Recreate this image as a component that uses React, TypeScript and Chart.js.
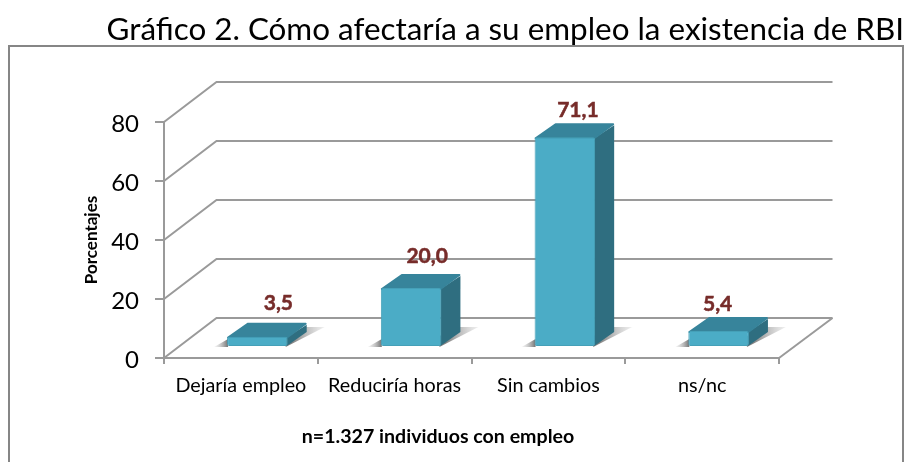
import React, { useEffect, useRef } from "react";
import { Chart, registerables } from "chart.js";

Chart.register(...registerables);

const titleText = "Gráfico 2. Cómo afectaría a su empleo la existencia de RBI";
const yAxisTitle = "Porcentajes";
const noteText = "n=1.327 individuos con empleo";
const categories = ["Dejaría empleo", "Reduciría horas", "Sin cambios", "ns/nc"];
const values = [3.5, 20.0, 71.1, 5.4];

const FONT = "Lato, Carlito, sans-serif";
const LINE = "#9a9a9a";
const FRONT = "#4bacc6";
const TOP = "#37849b";
const SIDE = "#2f6e80";
const LABEL = "#772c2a";

// Perspective offsets of the 3D look
const WALL_DX = 52.5;
const WALL_DY = -40;
const BAR_DX = 16.5;
const BAR_DY = -11;
const DEPTH_DX = 19;
const DEPTH_DY = -14;
const labelNudge = [
  [21, -33],
  [16, -32],
  [13, -27],
  [-1, -27],
];

const poly = (ctx: CanvasRenderingContext2D, pts: number[][]) => {
  ctx.beginPath();
  pts.forEach(([x, y], i) => (i ? ctx.lineTo(x, y) : ctx.moveTo(x, y)));
  ctx.closePath();
};

const scene = {
  id: "scene",
  beforeDraw(chart: any) {
    const { ctx, chartArea: a, scales } = chart;
    ctx.save();
    // frame
    ctx.strokeStyle = "#868686";
    ctx.lineWidth = 2;
    ctx.strokeRect(9, 46, 894, 440);
    // walls
    ctx.strokeStyle = LINE;
    ctx.lineWidth = 2;
    scales.y.ticks.forEach((t: any) => {
      const y = scales.y.getPixelForValue(t.value);
      ctx.beginPath();
      ctx.moveTo(a.left, y);
      ctx.lineTo(a.left + WALL_DX, y + WALL_DY);
      ctx.lineTo(a.right + WALL_DX + 1, y + WALL_DY);
      ctx.stroke();
    });
    ctx.beginPath();
    ctx.moveTo(a.right + WALL_DX + 1, a.bottom + WALL_DY);
    ctx.lineTo(a.right, a.bottom);
    ctx.stroke();
    ctx.restore();
  },
  beforeDatasetDraw(chart: any) {
    const { ctx } = chart;
    const meta = chart.getDatasetMeta(0);
    ctx.save();
    meta.data.forEach((bar: any) => {
      const l = bar.x - bar.width / 2 + BAR_DX;
      const r = bar.x + bar.width / 2 + BAR_DX;
      const t = bar.y + BAR_DY;
      const b = bar.base + BAR_DY;
      // floor shadow
      const g = ctx.createLinearGradient(r + 4, 0, r + 37, 0);
      g.addColorStop(0, "rgba(95,95,95,0.8)");
      g.addColorStop(1, "rgba(190,190,190,0.25)");
      ctx.fillStyle = g;
      poly(ctx, [[r - 2, b + 1], [r + 37, b - 19], [r + DEPTH_DX - 2, b - 19], [r - 2, b - 10]]);
      ctx.fill();
      const gl = ctx.createLinearGradient(l - 13, 0, l, 0);
      gl.addColorStop(0, "rgba(200,200,200,0.2)");
      gl.addColorStop(1, "rgba(95,95,95,0.8)");
      ctx.fillStyle = gl;
      poly(ctx, [[l - 13, b + 1], [l + 1, b + 1], [l + 1, b - 7]]);
      ctx.fill();
      // top and side faces
      ctx.fillStyle = SIDE;
      poly(ctx, [[r - 1, t + 1], [r + DEPTH_DX, t + DEPTH_DY + 2], [r + DEPTH_DX, b + DEPTH_DY], [r - 1, b]]);
      ctx.fill();
      ctx.fillStyle = TOP;
      ctx.lineJoin = "round";
      ctx.strokeStyle = TOP;
      ctx.lineWidth = 2;
      poly(ctx, [[l + 1, t + 1], [l + DEPTH_DX + 2, t + DEPTH_DY + 1], [r + DEPTH_DX - 1, t + DEPTH_DY + 1], [r - 1, t + 1]]);
      ctx.fill();
      ctx.stroke();
    });
    ctx.restore();
    ctx.save();
    ctx.translate(BAR_DX, BAR_DY);
  },
  afterDatasetDraw(chart: any) {
    const { ctx } = chart;
    ctx.restore();
    const meta = chart.getDatasetMeta(0);
    ctx.save();
    ctx.font = `bold 21px ${FONT}`;
    ctx.fillStyle = LABEL;
    ctx.strokeStyle = LABEL;
    ctx.lineWidth = 0.5;
    ctx.textAlign = "center";
    ctx.textBaseline = "middle";
    meta.data.forEach((bar: any, i: number) => {
      const top = bar.y + BAR_DY;
      const text = values[i].toFixed(1).replace(".", ",");
      const x = bar.x + BAR_DX + labelNudge[i][0];
      const y = top + labelNudge[i][1];
      ctx.fillText(text, x, y);
      ctx.strokeText(text, x, y);
    });
    ctx.font = `bold 19.6px ${FONT}`;
    ctx.fillStyle = "#000";
    ctx.fillText(noteText, 438, 437);
    ctx.restore();
  },
};

export default function App() {
  const ref = useRef<HTMLCanvasElement>(null);
  useEffect(() => {
    document.body.style.margin = "0";
    const chart = new Chart(ref.current!, {
      type: "bar",
      plugins: [scene],
      data: {
        labels: categories,
        datasets: [
          {
            data: values,
            backgroundColor: FRONT,
            borderColor: "#45a0b8",
            borderWidth: 1,
            borderRadius: 2,
            borderSkipped: false,
            barPercentage: 0.394,
            categoryPercentage: 1,
          },
        ],
      },
      options: {
        responsive: false,
        animation: false,
        layout: { padding: 0 },
        plugins: {
          legend: { display: false },
          tooltip: { enabled: false },
          title: {
            display: true,
            text: titleText,
            align: "end",
            color: "#000",
            font: { family: FONT, size: 31.4, weight: "normal", lineHeight: 1 },
            padding: { top: 14, bottom: 76.6 },
          },
        },
        scales: {
          x: {
            grid: { drawOnChartArea: false, color: LINE, lineWidth: 2, tickLength: 6 },
            border: { color: LINE, width: 2 },
            ticks: { color: "#000", font: { family: FONT, size: 19.8 }, padding: 10 },
            afterFit: (s: any) => { s.height = 104; },
          },
          y: {
            min: 0,
            max: 80,
            ticks: { stepSize: 20, color: "#000", font: { family: FONT, size: 24 }, padding: 16, labelOffset: 2 },
            grid: { drawOnChartArea: false, color: LINE, lineWidth: 2, tickLength: 9 },
            border: { color: LINE, width: 2 },
            title: {
              display: true,
              text: yAxisTitle,
              color: "#000",
              font: { family: FONT, size: 17, weight: "bold", lineHeight: 1 },
              padding: { top: 83.5, bottom: 0 },
            },
            afterFit: (s: any) => { s.width = 164; },
          },
          margin: {
            position: "right",
            display: true,
            grid: { display: false },
            border: { display: false },
            ticks: { display: false },
            afterFit: (s: any) => { s.width = 125; },
          },
        },
      } as any,
    });
    return () => chart.destroy();
  }, []);
  return <canvas ref={ref} width={904} height={462} style={{ display: "block" }} />;
}
